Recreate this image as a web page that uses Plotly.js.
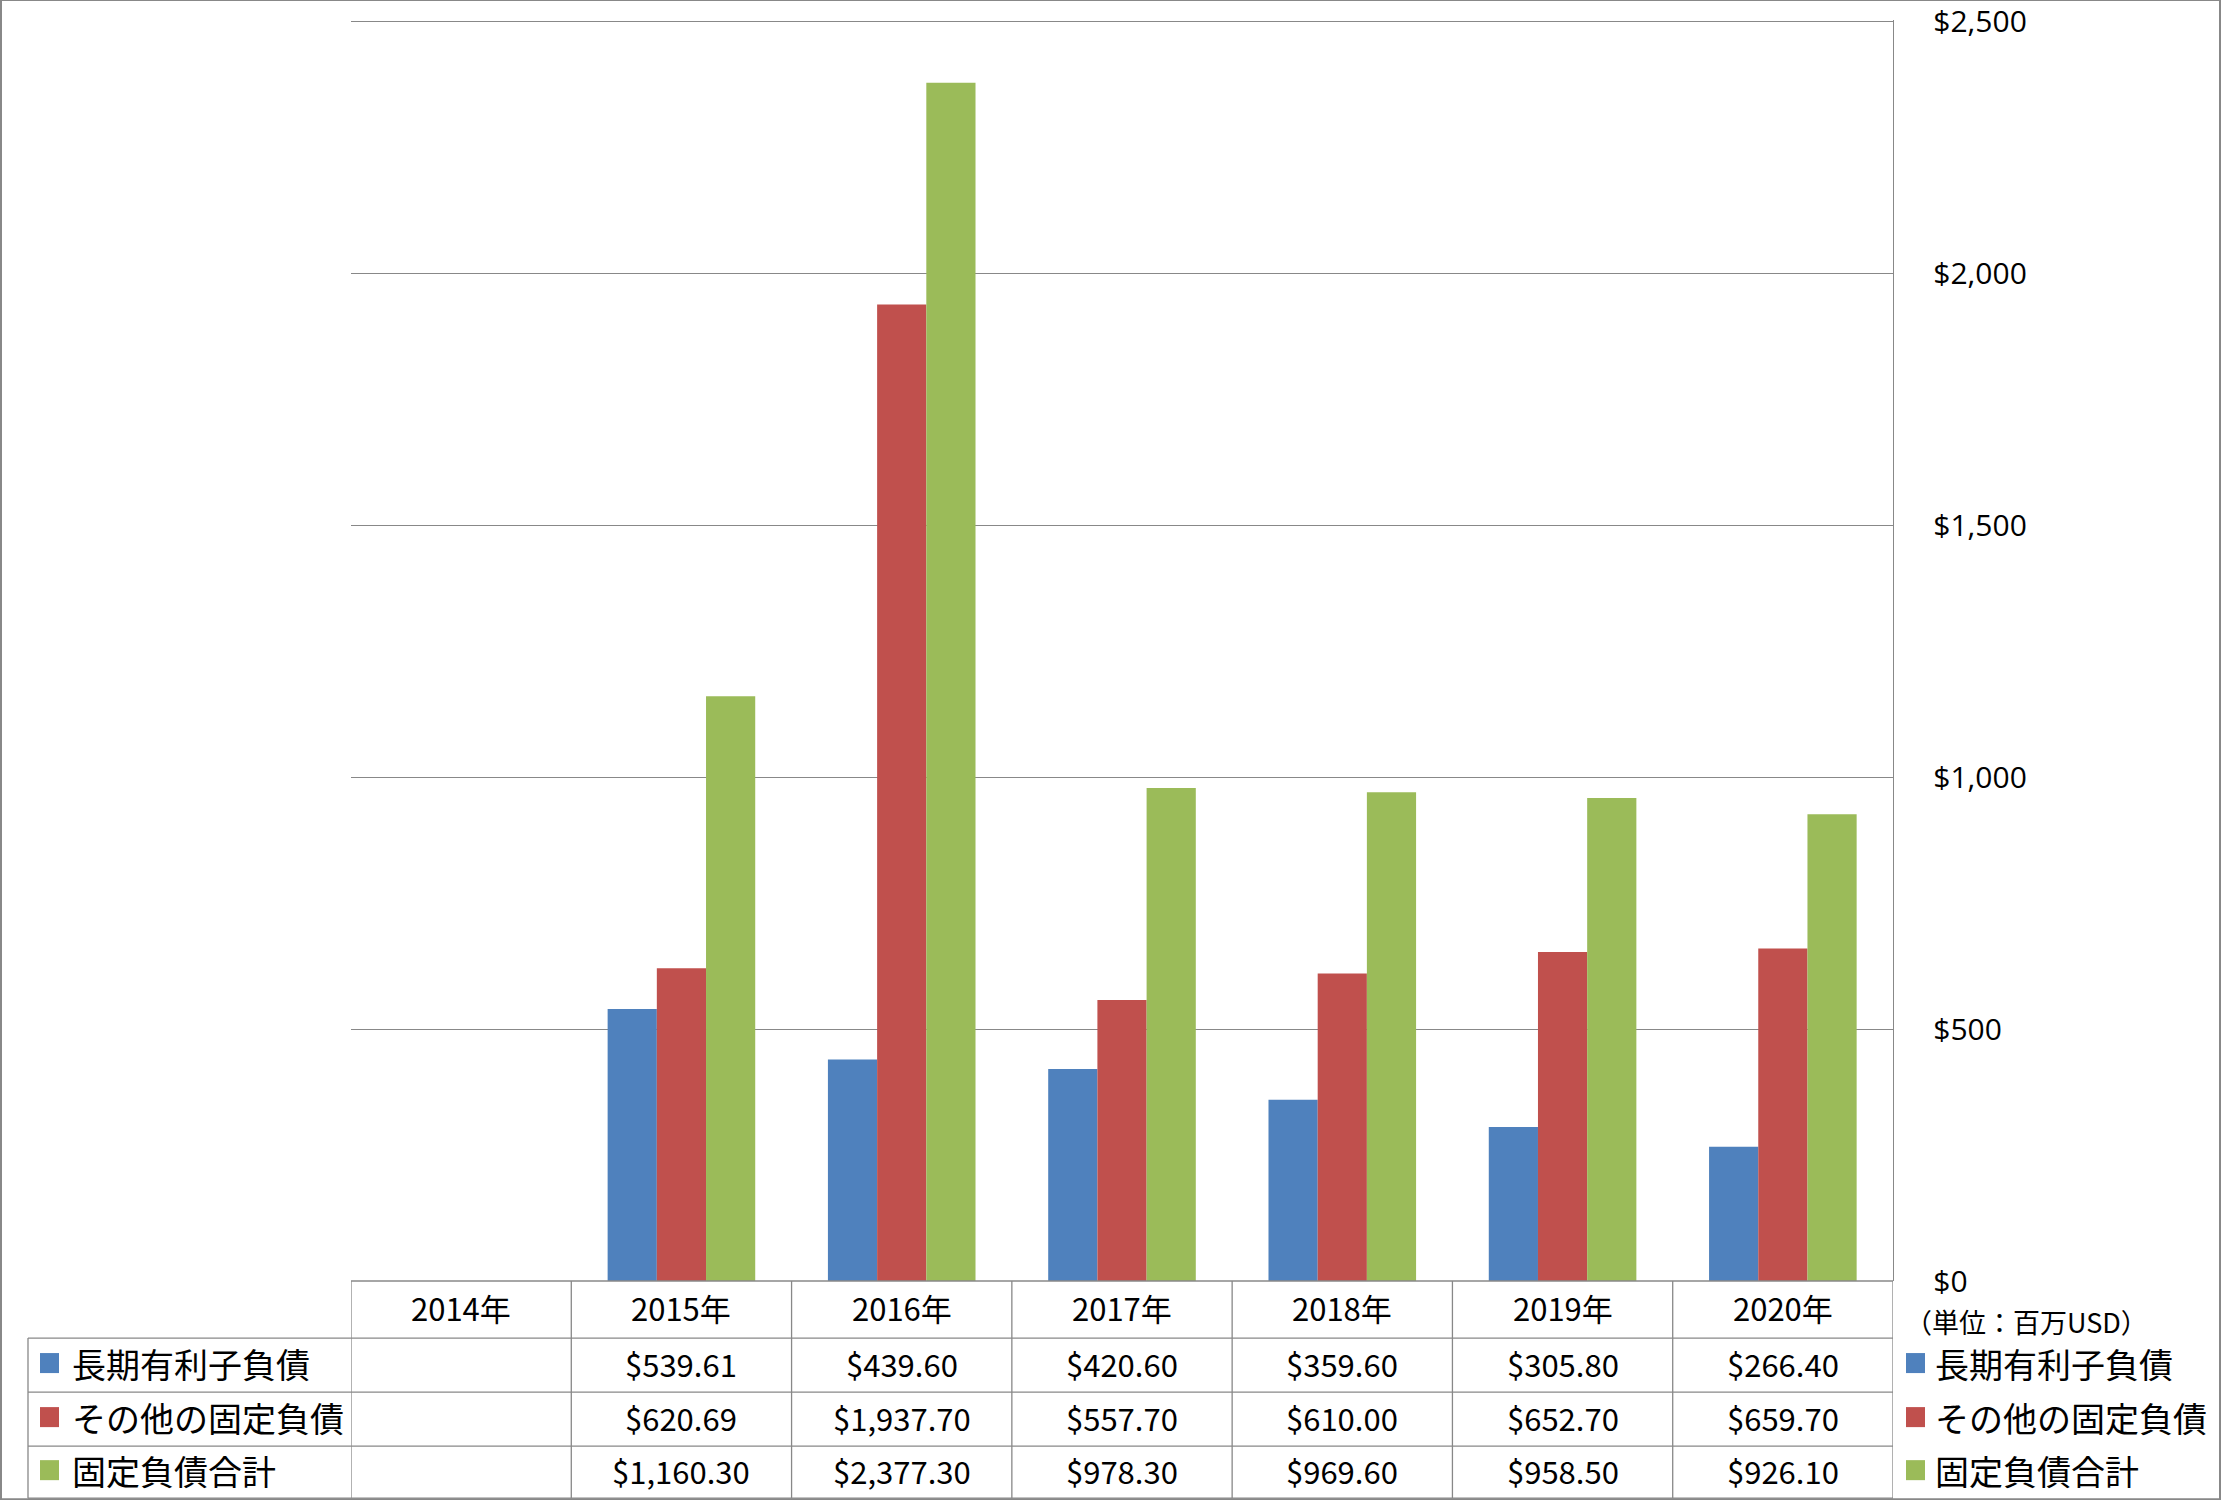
<!DOCTYPE html>
<html>
<head>
<meta charset="utf-8">
<script src="https://cdn.plot.ly/plotly-3.0.1.min.js"></script>
<style>html,body{margin:0;padding:0;background:#fff;}#chart{width:2221px;height:1500px;}</style>
</head>
<body>
<div id="chart"></div>
<script>
// ---- data ----
const years = ['2014年','2015年','2016年','2017年','2018年','2019年','2020年'];
const longTermDebt = [null, 539.61, 439.60, 420.60, 359.60, 305.80, 266.40];
const otherFixedLiab = [null, 620.69, 1937.70, 557.70, 610.00, 652.70, 659.70];
const totalFixedLiab = [null, 1160.30, 2377.30, 978.30, 969.60, 958.50, 926.10];
const seriesNames = ['長期有利子負債', 'その他の固定負債', '固定負債合計'];
const seriesColors = ['#4F81BD', '#C0504D', '#9BBB59'];
const yTickVals = [0, 500, 1000, 1500, 2000, 2500];
const yTickText = yTickVals.map(v => '$' + v.toLocaleString('en-US'));
const unitLabel = '（単位：百万USD）';

// ---- geometry ----
const W = 2221, H = 1500;
const L = 351, R = 1893, T = 21, B = 1281;
const px = x => (x - L) / (R - L);
const py = y => (B - y) / (B - T);
const gridCol = '#888888';
const jpFont = "'Noto Sans CJK JP', 'Noto Sans', sans-serif";
const dy = -2; // small vertical nudge for CJK text metrics

const seriesData = [longTermDebt, otherFixedLiab, totalFixedLiab];
const traces = seriesData.map((vals, i) => ({
  type: 'bar', x: years, y: vals, name: seriesNames[i],
  marker: {color: seriesColors[i], line: {width: 0}},
  hoverinfo: 'skip'
}));

const fmt = v => '$' + v.toLocaleString('en-US', {minimumFractionDigits: 2, maximumFractionDigits: 2});

const rowTops = [1338, 1392, 1446];
const rowBottoms = [1392, 1446, 1498];
const headerCenter = (1281 + 1338) / 2;

const annotations = [];
const shapes = [];

// header row
years.forEach(y => annotations.push({
  x: y, xref: 'x', y: py(headerCenter + dy), yref: 'paper', text: y, showarrow: false,
  xanchor: 'center', yanchor: 'middle', font: {family: jpFont, size: 31, color: '#000'}
}));
// value rows + legends
seriesData.forEach((vals, r) => {
  const cy = (rowTops[r] + rowBottoms[r]) / 2;
  vals.forEach((v, i) => {
    if (v === null) return;
    annotations.push({
      x: years[i], xref: 'x', y: py(cy + dy), yref: 'paper', text: fmt(v), showarrow: false,
      xanchor: 'center', yanchor: 'middle', font: {family: jpFont, size: 31, color: '#000'}
    });
  });
  // left legend
  shapes.push({type: 'rect', xref: 'paper', yref: 'paper', x0: px(40), x1: px(59), y0: py(cy - 12), y1: py(cy + 8),
    fillcolor: seriesColors[r], line: {width: 0}});
  annotations.push({x: px(70), xref: 'paper', y: py(cy + dy), yref: 'paper', text: seriesNames[r], showarrow: false,
    xanchor: 'left', yanchor: 'middle', font: {family: jpFont, size: 34, color: '#000'}});
  // right legend
  shapes.push({type: 'rect', xref: 'paper', yref: 'paper', x0: px(1906), x1: px(1925), y0: py(cy - 12), y1: py(cy + 8),
    fillcolor: seriesColors[r], line: {width: 0}});
  annotations.push({x: px(1933), xref: 'paper', y: py(cy + dy), yref: 'paper', text: seriesNames[r], showarrow: false,
    xanchor: 'left', yanchor: 'middle', font: {family: jpFont, size: 34, color: '#000'}});
});
// unit label
annotations.push({x: px(1903), xref: 'paper', y: py(1321), yref: 'paper', text: unitLabel, showarrow: false,
  xanchor: 'left', yanchor: 'middle', font: {family: jpFont, size: 27, color: '#000'}});

// table lines
const lineStyle = {color: gridCol, width: 1.3};
shapes.push({type: 'line', xref: 'paper', yref: 'paper', x0: 0, x1: 1, y0: py(1281), y1: py(1281), line: lineStyle});
[1338, 1392, 1446, 1498].forEach(yy => shapes.push({type: 'line', xref: 'paper', yref: 'paper',
  x0: px(28), x1: 1, y0: py(yy), y1: py(yy), line: lineStyle}));
shapes.push({type: 'line', xref: 'paper', yref: 'paper', x0: px(28), x1: px(28), y0: py(1338), y1: py(1498), line: lineStyle});
for (let k = 0; k <= years.length; k++) {
  shapes.push({type: 'line', xref: 'x', yref: 'paper', x0: k - 0.5, x1: k - 0.5, y0: py(1281), y1: py(1498), line: lineStyle});
}
// outer frame
shapes.push({type: 'rect', xref: 'paper', yref: 'paper', x0: px(1), x1: px(W - 1), y0: py(H - 1), y1: py(1),
  line: {color: gridCol, width: 2}, fillcolor: 'rgba(0,0,0,0)'});

const layout = {
  width: W, height: H,
  margin: {l: L, r: W - R, t: T - 1, b: H - B, pad: 0},
  paper_bgcolor: '#fff', plot_bgcolor: '#fff',
  showlegend: false,
  barmode: 'group', bargap: 0.33, bargroupgap: 0,
  xaxis: {type: 'category', range: [-0.5, years.length - 0.5], showticklabels: false, showgrid: false,
    zeroline: false, showline: false, ticks: '', fixedrange: true},
  yaxis: {side: 'right', range: [0, 2502], tickmode: 'array', tickvals: yTickVals, ticktext: yTickText,
    ticklabeloverflow: 'allow',
    showgrid: true, gridcolor: gridCol, gridwidth: 1, zeroline: false, showline: true, linecolor: gridCol, linewidth: 1.3,
    ticks: '', ticklabelstandoff: 33, tickfont: {family: "'Open Sans', sans-serif", size: 30, color: '#000'}, fixedrange: true},
  annotations: annotations,
  shapes: shapes
};

Plotly.newPlot('chart', traces, layout, {staticPlot: true, displayModeBar: false});
</script>
</body>
</html>
